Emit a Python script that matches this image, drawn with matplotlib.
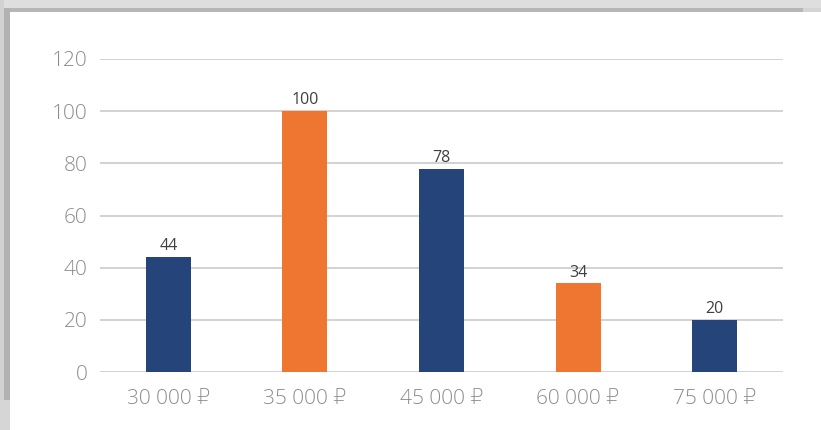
import matplotlib
matplotlib.use("Agg")
import matplotlib.pyplot as plt
from matplotlib.patches import Rectangle

categories = ["30 000 ₽", "35 000 ₽", "45 000 ₽", "60 000 ₽", "75 000 ₽"]
values = [44, 100, 78, 34, 20]
bar_colors = ["#25457A", "#EE7631", "#25457A", "#EE7631", "#25457A"]
yticks = [0, 20, 40, 60, 80, 100, 120]

W, H = 821, 430
fig = plt.figure(figsize=(W / 100, H / 100), dpi=100)
fig.patch.set_facecolor("white")

# soft grey frame along the top and left edges
def px_rect(x0, y0, w, h, color):
    fig.patches.append(Rectangle((x0 / W, 1 - (y0 + h) / H), w / W, h / H,
                                 transform=fig.transFigure, color=color, lw=0, zorder=0))

px_rect(0, 0, W, 8, "#dedede")
px_rect(0, 8, W - 18, 4, "#b6b6b6")
px_rect(W - 18, 8, 18, 4, "#d4d4d4")
px_rect(0, 0, 4, H, "#d2d2d2")
px_rect(4, 8, 6, H - 8, "#b2b2b2")
px_rect(0, H - 30, 10, 30, "#d6d6d6")

ax = fig.add_axes([100 / W, (H - 372) / H, 683 / W, 313 / H])
x = range(len(categories))
bars = ax.bar(x, values, width=0.33, color=bar_colors, zorder=3)

ax.set_xlim(-0.5, len(categories) - 0.5)
ax.set_ylim(0, 120)
ax.set_yticks(yticks)
ax.set_xticks(list(x))
ax.set_xticklabels(categories)

fam = ["Open Sans", "DejaVu Sans"]
for lab in ax.get_yticklabels() + ax.get_xticklabels():
    lab.set_family(fam)
    lab.set_fontsize(15)
    lab.set_fontweight("light")
    lab.set_color("#8c8c8c")
ax.tick_params(axis="both", length=0)
ax.tick_params(axis="y", pad=9)
ax.tick_params(axis="x", pad=12)

ax.grid(axis="y", color="#cbcbcb", lw=1.2, zorder=0)
for s in ax.spines.values():
    s.set_visible(False)

for rect, v in zip(bars, values):
    ax.annotate(str(v), (rect.get_x() + rect.get_width() / 2, v),
                xytext=(0, 2), textcoords="offset points",
                ha="center", va="bottom", fontsize=11.5,
                family=fam, color="#404040")

fig.savefig("out.png", dpi=100, facecolor="white")
